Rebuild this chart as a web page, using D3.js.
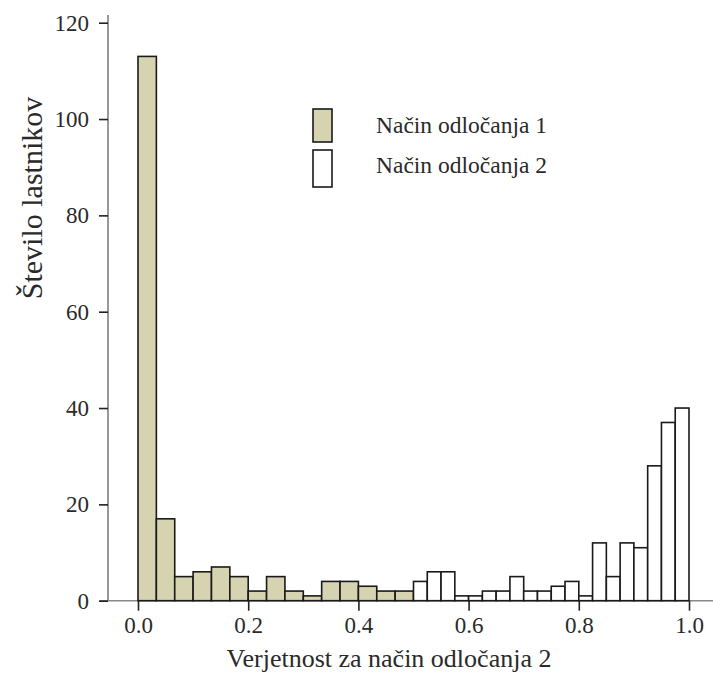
<!DOCTYPE html>
<html>
<head>
<meta charset="utf-8">
<script src="https://cdn.jsdelivr.net/npm/d3@7"></script>
<style>
  body { margin: 0; background: #fff; }
  text { font-family: "Liberation Serif", "Times New Roman", serif; fill: #2a2a2a; }
</style>
</head>
<body>
<div class="display"></div>
<script>
// histogram 1: 15 bins of width 1/30 on [0, 0.5]
var counts1 = [113, 17, 5, 6, 7, 5, 2, 5, 2, 1, 4, 4, 3, 2, 2];
// histogram 2: 20 bins of width 1/40 on [0.5, 1]
var counts2 = [4, 6, 6, 1, 1, 2, 2, 5, 2, 2, 3, 4, 1, 12, 5, 12, 11, 28, 37, 40];
var xTicks = [0, 0.2, 0.4, 0.6, 0.8, 1.0];
var yTicks = [0, 20, 40, 60, 80, 100, 120];
var seriesNames = ["Način odločanja 1", "Način odločanja 2"];
var seriesFill = ["#d6d3b1", "#ffffff"];

var width = 713, height = 675;

var x = d3.scaleLinear().domain([0, 1]).range([138, 689]);
var y = d3.scaleLinear().domain([0, 120]).range([600.7, 22.7]);

var bins1 = counts1.map(function(c, i) { return { x0: i / 30, x1: (i + 1) / 30, n: c, s: 0 }; });
var bins2 = counts2.map(function(c, i) { return { x0: 0.5 + i / 40, x1: 0.5 + (i + 1) / 40, n: c, s: 1 }; });

var svg = d3.select(".display")
  .append("svg")
  .attr("width", width)
  .attr("height", height);

// axis lines
svg.append("line")
  .attr("x1", 108).attr("x2", 108)
  .attr("y1", 15).attr("y2", y(0))
  .attr("stroke", "#777").attr("stroke-width", 1.5);
svg.append("line")
  .attr("x1", 100).attr("x2", width)
  .attr("y1", y(0)).attr("y2", y(0))
  .attr("stroke", "#888").attr("stroke-width", 1.5);

// bars
svg.selectAll("rect.bar")
  .data(bins1.concat(bins2))
  .enter().append("rect")
  .attr("class", "bar")
  .attr("x", function(d) { return x(d.x0); })
  .attr("y", function(d) { return y(d.n); })
  .attr("width", function(d) { return x(d.x1) - x(d.x0); })
  .attr("height", function(d) { return y(0) - y(d.n); })
  .attr("fill", function(d) { return seriesFill[d.s]; })
  .attr("stroke", "#1a1a1a")
  .attr("stroke-width", 1.6);

// y axis
var yAxis = d3.axisLeft(y).tickValues(yTicks).tickSize(9).tickPadding(10).tickFormat(d3.format("d"));
var gy = svg.append("g").attr("transform", "translate(108,0)").call(yAxis);
gy.select(".domain").remove();
gy.selectAll(".tick line").attr("stroke", "#222").attr("stroke-width", 1.6);
gy.selectAll(".tick text").style("font-size", "23px").attr("fill", "#2a2a2a");

// x axis
var xAxis = d3.axisBottom(x).tickValues(xTicks).tickSize(10).tickPadding(6).tickFormat(d3.format(".1f"));
var gx = svg.append("g").attr("transform", "translate(0," + y(0) + ")").call(xAxis);
gx.select(".domain").remove();
gx.selectAll(".tick line").attr("stroke", "#222").attr("stroke-width", 1.6);
gx.selectAll(".tick text").style("font-size", "23px").attr("fill", "#2a2a2a");

// titles
svg.append("text")
  .attr("x", 389).attr("y", 667)
  .attr("text-anchor", "middle")
  .style("font-size", "26px")
  .text("Verjetnost za način odločanja 2");

svg.append("text")
  .attr("transform", "translate(42,198) rotate(-90)")
  .attr("text-anchor", "middle")
  .style("font-size", "30px")
  .text("Število lastnikov");

// legend
var leg = svg.append("g");
leg.selectAll("rect")
  .data(seriesNames)
  .enter().append("rect")
  .attr("x", 313)
  .attr("y", function(d, i) { return i === 0 ? 109 : 150; })
  .attr("width", 19)
  .attr("height", function(d, i) { return i === 0 ? 33 : 37; })
  .attr("fill", function(d, i) { return seriesFill[i]; })
  .attr("stroke", "#1a1a1a")
  .attr("stroke-width", 1.6);
leg.selectAll("text")
  .data(seriesNames)
  .enter().append("text")
  .attr("x", 376)
  .attr("y", function(d, i) { return i === 0 ? 133 : 173; })
  .style("font-size", "23.5px")
  .text(function(d) { return d; });
</script>
</body>
</html>
